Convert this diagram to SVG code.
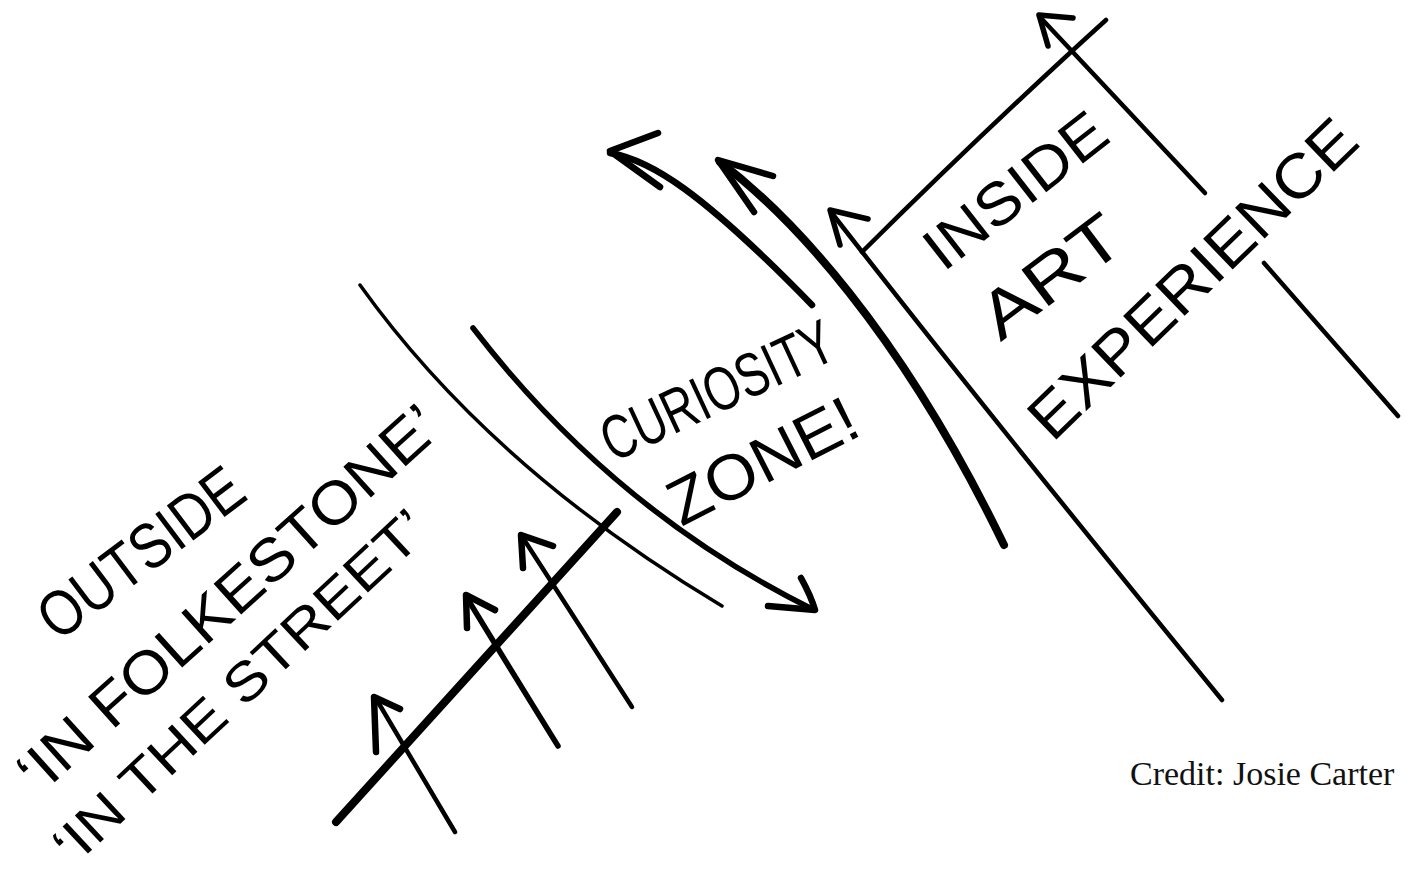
<svg xmlns="http://www.w3.org/2000/svg" width="1412" height="887" viewBox="0 0 1412 887">
<style>
.ink{fill:none;stroke:#000;stroke-linecap:round;stroke-linejoin:round}
.w3{stroke-width:3.5}.w4{stroke-width:4.5}.w5{stroke-width:5.5}.w6{stroke-width:6.5}.w7{stroke-width:8}
.hand{font-family:"Liberation Sans Narrow","Liberation Sans",sans-serif;fill:#000;text-anchor:middle}
.credit{font-family:"Liberation Serif",serif;font-size:34px;fill:#111}
</style>
<rect width="1412" height="887" fill="#fff"/>
<g id="connectors">
  <!-- street line and entering arrows -->
  <path class="ink w7" d="M336,822 L617,512"/>
  <path class="ink w4" d="M455,832 Q415,765 375,697"/>
  <path class="ink w6" d="M376,752 L374,697 L400,709"/>
  <path class="ink w5" d="M558,746 Q512,672 467,598"/>
  <path class="ink w6" d="M467,628 L466,595 L495,610"/>
  <path class="ink w4" d="M632,707 Q577,622 523,538"/>
  <path class="ink w6" d="M523,568 L521,535 L553,546"/>
  <!-- curiosity zone boundaries -->
  <path class="ink w3" d="M360,285 Q490,467 722,606"/>
  <path class="ink w5" d="M473,328 Q613,510 812,609"/>
  <path class="ink w6" d="M801,578 Q811,596 815,610 L768,606"/>
  <!-- curved arrows leaving upward -->
  <path class="ink w6" d="M812,305 C700,190 650,160 610,153"/>
  <path class="ink w6" d="M658,133 L610,151 L660,187"/>
  <path class="ink w7" d="M1004,545 C900,330 790,215 720,162"/>
  <path class="ink w6" d="M773,176 L718,160 L754,212"/>
  <!-- inside boundary -->
  <path class="ink w4" d="M1222,700 Q985,410 831,212"/>
  <path class="ink w5" d="M868,219 L830,210 L840,245"/>
  <path class="ink w4" d="M862,252 Q990,125 1106,20"/>
  <path class="ink w4" d="M1205,193 L1039,16"/>
  <path class="ink w5" d="M1048,46 L1039,15 L1073,18"/>
  <path class="ink w4" d="M1264,263 L1398,416"/>
</g>
<g id="outside">
  <text class="hand" font-size="64" textLength="240" lengthAdjust="spacingAndGlyphs" transform="translate(140,552) rotate(-37)" y="23">OUTSIDE</text>
  <text class="hand" font-size="60" textLength="545" lengthAdjust="spacingAndGlyphs" transform="translate(228,598) rotate(-42)" y="21">‘IN FOLKESTONE’</text>
  <text class="hand" font-size="54" textLength="490" lengthAdjust="spacingAndGlyphs" transform="translate(240,686) rotate(-43)" y="19">‘IN THE STREET’</text>
</g>
<g id="curiosity-zone">
  <text class="hand" font-size="62" textLength="250" lengthAdjust="spacingAndGlyphs" transform="translate(717,390) rotate(-25)" y="22">CURIOSITY</text>
  <text class="hand" font-size="64" textLength="205" lengthAdjust="spacingAndGlyphs" transform="translate(762,460) rotate(-27)" y="23">ZONE!</text>
</g>
<g id="inside">
  <text class="hand" font-size="60" textLength="215" lengthAdjust="spacingAndGlyphs" transform="translate(1015,190) rotate(-38)" y="21">INSIDE</text>
  <text class="hand" font-size="66" textLength="160" lengthAdjust="spacingAndGlyphs" transform="translate(1050,275) rotate(-37)" y="24">ART</text>
  <text class="hand" font-size="62" textLength="430" lengthAdjust="spacingAndGlyphs" transform="translate(1192,278) rotate(-44)" y="22">EXPERIENCE</text>
</g>
<g id="credit">
  <text class="credit" x="1130" y="785">Credit: Josie Carter</text>
</g>
</svg>
